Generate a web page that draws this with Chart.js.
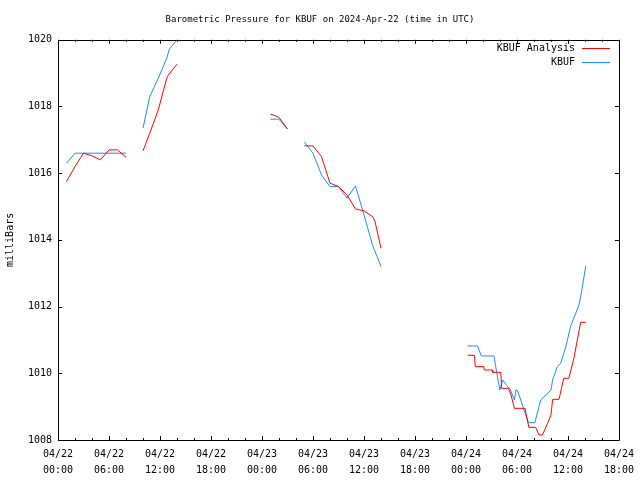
<!DOCTYPE html>
<html>
<head>
<meta charset="utf-8">
<script src="https://cdn.jsdelivr.net/npm/chart.js@4"></script>
<style>
  body { margin: 0; background: #fff; }
  #wrap { width: 640px; height: 480px; }
</style>
</head>
<body>
<div id="wrap"><canvas id="pres_chart"></canvas></div>
<script>
// hours since 04/22 00:00 UTC, null = gap in record
const analysisHours = [1, 2, 3, 4, 5, 6, 7, 8, 9,
  10, 10.8, 11.8, 12.8, 13, 14, 20,
  25, 25.5, 26, 27, 28,
  29, 30, 31, 32, 33, 34, 35, 36, 37, 37.3, 38, 44,
  48.2, 49, 49.1, 50.1, 50.15, 51.1, 51.15, 52.1, 52.2, 53, 53.3, 53.7, 54.95, 55.1, 55.4, 56.2, 56.6, 57, 57.6, 58, 58.2, 58.95, 59.5, 60.1, 60.7, 61.1, 61.5, 62.1];
const analysisValues = [1015.75, 1016.2, 1016.6, 1016.52, 1016.4, 1016.7, 1016.7, 1016.48, null,
  1016.67, 1017.2, 1017.9, 1018.85, 1018.95, 1019.27, null,
  1017.77, 1017.73, 1017.67, 1017.33, null,
  1016.82, 1016.82, 1016.5, 1015.7, 1015.6, 1015.35, 1014.93, 1014.87, 1014.7, 1014.55, 1013.75, null,
  1010.54, 1010.54, 1010.2, 1010.2, 1010.1, 1010.1, 1010.03, 1010.03, 1009.55, 1009.55, 1009.35, 1008.95, 1008.95, 1008.75, 1008.38, 1008.38, 1008.15, 1008.15, 1008.5, 1008.75, 1009.22, 1009.22, 1009.85, 1009.85, 1010.45, 1011.0, 1011.53, 1011.53];

const kbufHours = [1, 2, 3, 4, 5, 6, 7, 8, 9,
  10, 10.8, 11.8, 12.8, 13.1, 14, 20,
  25, 26, 27, 28,
  29, 30, 31, 32, 33, 34, 35, 36, 37, 38, 44,
  48.2, 49.36, 49.8, 51.3, 51.5, 51.8, 52, 52.3, 52.9, 53.2, 53.7, 53.87, 54.1, 54.7, 55.35, 56.1, 56.8, 58, 58.2, 58.75, 59.15, 59.75, 60.3, 61.3, 61.5, 62.1];
const kbufValues = [1016.3, 1016.6, 1016.6, 1016.6, 1016.6, 1016.6, 1016.6, 1016.6, null,
  1017.35, 1018.3, 1018.85, 1019.45, 1019.72, 1020.0, null,
  1017.62, 1017.62, 1017.32, null,
  1016.93, 1016.6, 1015.95, 1015.6, 1015.6, 1015.25, 1015.62, 1014.75, 1013.85, 1013.2, null,
  1010.82, 1010.82, 1010.52, 1010.52, 1010.2, 1009.75, 1009.5, 1009.8, 1009.6, 1009.52, 1009.2, 1009.5, 1009.47, 1009.0, 1008.52, 1008.52, 1009.2, 1009.5, 1009.8, 1010.2, 1010.3, 1010.8, 1011.4, 1012.05, 1012.3, 1013.22];

const seriesLabels = ["KBUF Analysis", "KBUF"];
const seriesColors = ["#ff0000", "#1e8cff"];
const chartTitle = "Barometric Pressure for KBUF on 2024-Apr-22 (time in UTC)";
const yLabel = "milliBars";

const FONT = "'DejaVu Sans Mono', monospace";

function toPoints(hours, values) {
  return hours.map((h, i) => ({ x: h, y: values[i] }));
}

function tickLabel(v) {
  const day = 22 + Math.floor(v / 24);
  const hr = v % 24;
  return ["04/" + day, (hr < 10 ? "0" : "") + hr + ":00"];
}

// gnuplot style frame, inward ticks, and key box
const frameAndKey = {
  id: "frameAndKey",
  afterDraw(chart) {
    const ctx = chart.ctx;
    const a = chart.chartArea;
    const xs = chart.scales.x;
    const ys = chart.scales.y;
    ctx.save();
    ctx.strokeStyle = "#000";
    ctx.lineWidth = 1;
    ctx.beginPath();
    ctx.rect(Math.round(a.left) + 0.5, Math.round(a.top) + 0.5,
      Math.round(a.right - a.left), Math.round(a.bottom - a.top));
    ctx.stroke();

    ctx.beginPath();
    for (let h = xs.min; h <= xs.max; h += 2) {
      const px = Math.round(xs.getPixelForValue(h)) + 0.5;
      const len = h % 6 === 0 ? 4 : 2;
      ctx.moveTo(px, a.bottom);
      ctx.lineTo(px, a.bottom - len);
      ctx.moveTo(px, a.top);
      ctx.lineTo(px, a.top + len);
    }
    for (let p = ys.min; p <= ys.max; p += 2) {
      const py = Math.round(ys.getPixelForValue(p)) + 0.5;
      ctx.moveTo(a.left, py);
      ctx.lineTo(a.left + 4, py);
      ctx.moveTo(a.right, py);
      ctx.lineTo(a.right - 4, py);
    }
    ctx.stroke();

    // key
    ctx.font = "10px " + FONT;
    ctx.textAlign = "right";
    ctx.textBaseline = "middle";
    chart.data.datasets.forEach((ds, i) => {
      const y = 48 + i * 14;
      ctx.fillStyle = "#000";
      ctx.fillText(ds.label, 575, y);
      ctx.strokeStyle = ds.borderColor;
      ctx.beginPath();
      ctx.moveTo(582, y + 0.5);
      ctx.lineTo(610, y + 0.5);
      ctx.stroke();
    });
    ctx.restore();
  },
};

const ctx = document.getElementById("pres_chart").getContext("2d");
const presChart = new Chart(ctx, {
  type: "line",
  data: {
    datasets: [
      {
        label: seriesLabels[0],
        data: toPoints(analysisHours, analysisValues),
        borderColor: seriesColors[0],
        backgroundColor: seriesColors[0],
        borderWidth: 1,
        pointRadius: 0,
        tension: 0,
        spanGaps: false,
      },
      {
        label: seriesLabels[1],
        data: toPoints(kbufHours, kbufValues),
        borderColor: seriesColors[1],
        backgroundColor: seriesColors[1],
        borderWidth: 1,
        pointRadius: 0,
        tension: 0,
        spanGaps: false,
      },
    ],
  },
  options: {
    responsive: true,
    maintainAspectRatio: false,
    animation: false,
    layout: { padding: 0 },
    plugins: {
      legend: { display: false },
      tooltip: { enabled: false },
      title: {
        display: true,
        text: chartTitle,
        color: "#000",
        font: { family: FONT, size: 9, weight: "normal" },
        padding: { top: 14, bottom: 15 },
      },
    },
    scales: {
      x: {
        type: "linear",
        min: 0,
        max: 66,
        grid: { display: false, drawTicks: false },
        border: { display: false },
        afterFit(scale) { scale.height = 40; },
        afterBuildTicks(scale) {
          scale.ticks = [];
          for (let h = 0; h <= 66; h += 6) scale.ticks.push({ value: h });
        },
        ticks: {
          color: "#000",
          padding: 6,
          maxRotation: 0,
          autoSkip: false,
          font: { family: FONT, size: 10, lineHeight: 1.6 },
          callback: (v) => tickLabel(v),
        },
      },
      y: {
        min: 1008,
        max: 1020,
        grid: { display: false, drawTicks: false },
        border: { display: false },
        afterFit(scale) { scale.width = 58; },
        ticks: {
          stepSize: 2,
          color: "#000",
          padding: 6,
          font: { family: FONT, size: 10 },
          callback: (v) => String(v),
        },
        title: {
          display: true,
          text: yLabel,
          color: "#000",
          padding: { top: 4, bottom: 0 },
          font: { family: FONT, size: 10 },
        },
      },
      // empty right margin, keeps the title centred on the page
      yRight: {
        position: "right",
        min: 1008,
        max: 1020,
        grid: { display: false, drawTicks: false },
        border: { display: false },
        ticks: { display: false },
        afterFit(scale) { scale.width = 20; },
      },
    },
  },
  plugins: [frameAndKey],
});
</script>
</body>
</html>
